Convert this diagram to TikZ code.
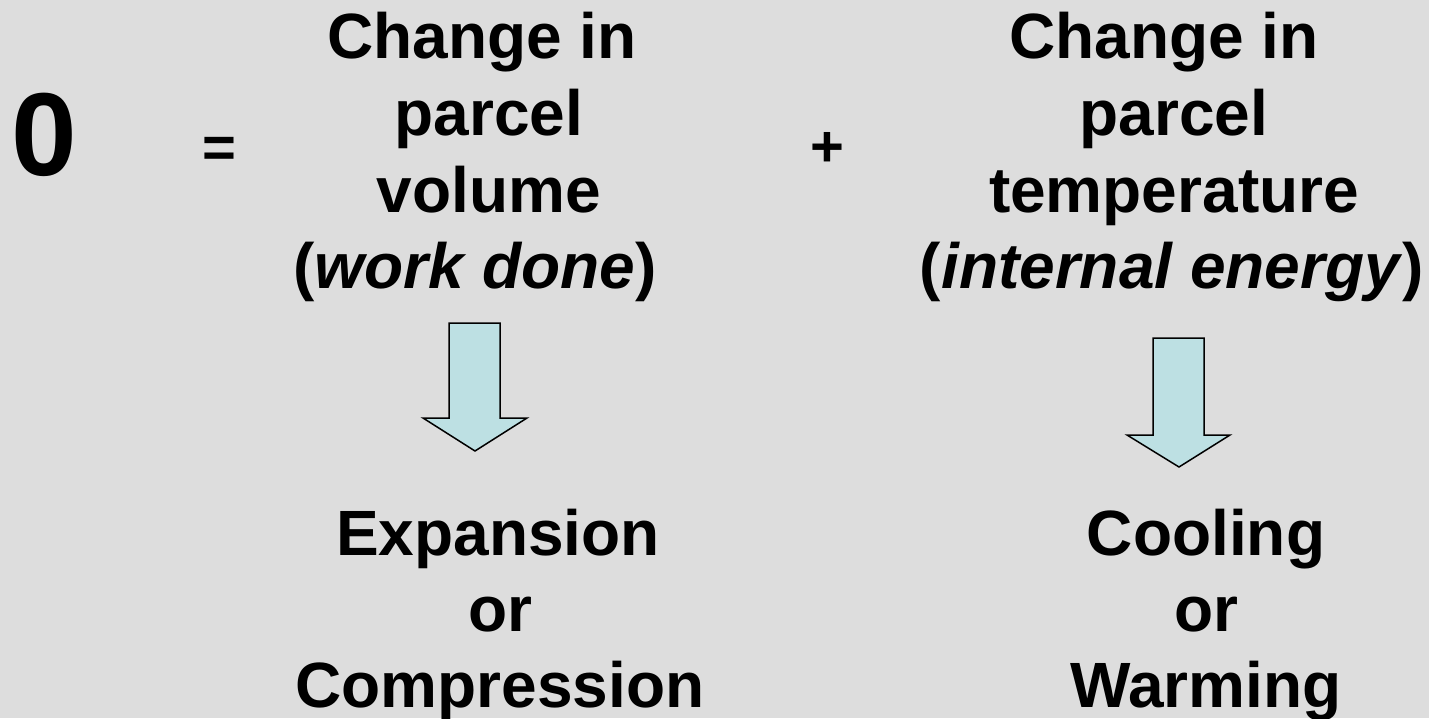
\documentclass[tikz,border=0pt]{standalone}
\usepackage{fontspec}
\setmainfont{Liberation Sans}
\definecolor{bgcol}{RGB}{221,221,221}
\definecolor{arrowfill}{RGB}{189,224,227}
\begin{document}
\begin{tikzpicture}[x=1pt,y=-1pt,
  txt/.style={anchor=base,inner sep=0pt,font=\bfseries\fontsize{64}{77}\selectfont},
  bigtxt/.style={anchor=base,inner sep=0pt,font=\bfseries\fontsize{118}{130}\selectfont},
  optxt/.style={anchor=base,inner sep=0pt,font=\bfseries\fontsize{58}{70}\selectfont},
  blockarrow/.style={draw=black,line width=1.5pt,fill=arrowfill,line join=miter}]
\fill[bgcol] (0,0) rectangle (1429,718);
\useasboundingbox (0,0) rectangle (1429,718);
% left-hand side
\node[bigtxt] (zero) at (44,175) {0};
\node[optxt] (eq) at (219,167) {=};
\node[optxt] (plus) at (827,166) {+};
% work term
\node[txt] (w1) at (482,58) {Change in};
\node[txt] (w2) at (489,135) {parcel};
\node[txt] (w3) at (489,212) {volume};
\node[txt] (w4) at (475,288) {(\textit{work done})};
% energy term
\node[txt] (e1) at (1164,58) {Change in};
\node[txt] (e2) at (1174,135) {parcel};
\node[txt] (e3) at (1174,212) {temperature};
\node[txt] (e4) at (1172,288) {(\textit{internal energy})};
% results
\node[txt] (r1) at (498,555) {Expansion};
\node[txt] (r2) at (500,631) {or};
\node[txt] (r3) at (500,707) {Compression};
\node[txt] (s1) at (1206,555) {Cooling};
\node[txt] (s2) at (1206,631) {or};
\node[txt] (s3) at (1206,707) {Warming};
% block arrows
\coordinate (a1tip) at (475,451);
\draw[blockarrow] (449,323) -- (500,323) -- (500,418) -- (527,418) -- (a1tip) -- (423,418) -- (449,418) -- cycle;
\coordinate (a2tip) at (1179,467);
\draw[blockarrow] (1153,338) -- (1204,338) -- (1204,435) -- (1230,435) -- (a2tip) -- (1127,435) -- (1153,435) -- cycle;
\end{tikzpicture}
\end{document}
